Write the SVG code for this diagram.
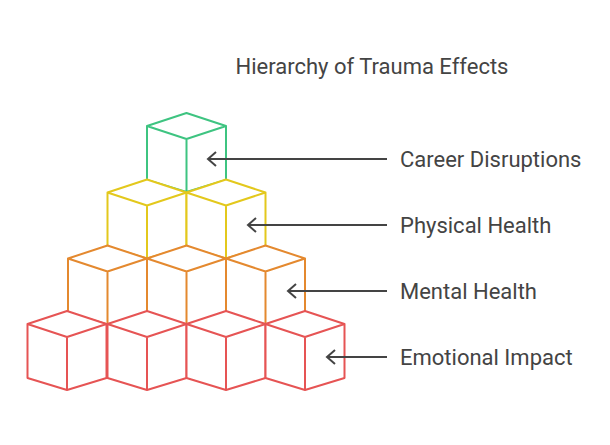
<svg xmlns="http://www.w3.org/2000/svg" width="610" height="445" viewBox="0 0 610 445">
<defs>
<style>
.c{fill:#fff;stroke-width:2;stroke-linejoin:round}
.g{stroke:#3ec481}.y{stroke:#e3c81c}.o{stroke:#e4892f}.r{stroke:#e65454}
.t{font-family:Roboto,"Liberation Sans",sans-serif;font-size:22px;fill:#444}
.a{stroke:#444;stroke-width:2;fill:none}
</style>
<g id="cube"><path d="M0,0 L39.5,13 L39.5,67 L0,79 L-39.5,67 L-39.5,13 Z M-39.5,13 L0,26 L39.5,13 M0,26 L0,79"/></g>
<marker id="m" viewBox="0 0 12 16" refX="10" refY="8" markerWidth="12" markerHeight="16" markerUnits="userSpaceOnUse" orient="auto"><path d="M2,1 L10,8 L2,15" fill="none" stroke="#444" stroke-width="2"/></marker>
</defs>
<rect width="610" height="445" fill="#fff"/>
<text class="t" x="372" y="74" text-anchor="middle">Hierarchy of Trauma Effects</text>
<g id="node-career"><use href="#cube" class="c g" x="186.5" y="113"/></g>
<g id="node-physical"><use href="#cube" class="c y" x="147" y="179.5"/><use href="#cube" class="c y" x="226" y="179.5"/></g>
<g id="node-mental"><use href="#cube" class="c o" x="107.5" y="245.5"/><use href="#cube" class="c o" x="186.5" y="245.5"/><use href="#cube" class="c o" x="265.5" y="245.5"/></g>
<g id="node-emotional"><use href="#cube" class="c r" x="67" y="311"/><use href="#cube" class="c r" x="147" y="311"/><use href="#cube" class="c r" x="226" y="311"/><use href="#cube" class="c r" x="305" y="311"/></g>
<g id="connectors">
<line class="a" x1="387" y1="159" x2="208" y2="159" marker-end="url(#m)"/>
<line class="a" x1="387" y1="225" x2="248" y2="225" marker-end="url(#m)"/>
<line class="a" x1="387" y1="291" x2="288" y2="291" marker-end="url(#m)"/>
<line class="a" x1="387" y1="357" x2="327" y2="357" marker-end="url(#m)"/>
</g>
<text class="t" x="400" y="167">Career Disruptions</text>
<text class="t" x="400" y="233">Physical Health</text>
<text class="t" x="400" y="299">Mental Health</text>
<text class="t" x="400" y="365">Emotional Impact</text>
</svg>
